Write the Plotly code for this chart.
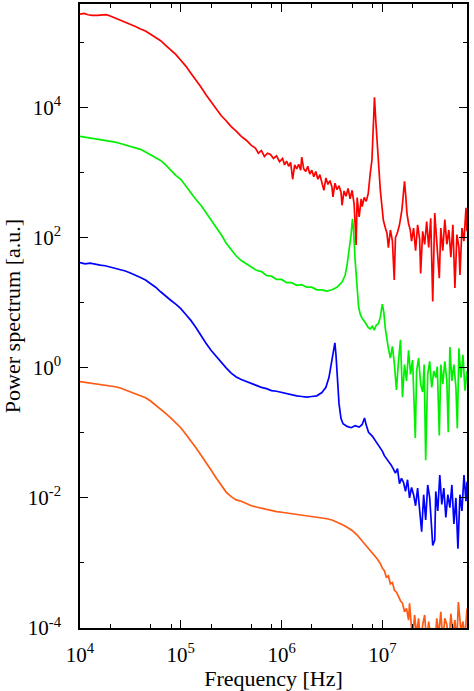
import numpy as np
import plotly.graph_objects as go

# values, as log10(frequency / Hz) and log10(power / a.u.)

red_logf = [4.00, 4.04, 4.08, 4.12, 4.17, 4.22, 4.26, 4.30, 4.35, 4.40, 4.45, 4.50, 4.55, 4.60,
            4.65, 4.70, 4.75, 4.80, 4.85, 4.90, 4.95, 5.00, 5.05, 5.10, 5.15, 5.20, 5.25, 5.30,
            5.35, 5.40, 5.45, 5.50, 5.55, 5.60, 5.65, 5.70, 5.74, 5.77, 5.80, 5.83, 5.86, 5.89,
            5.92, 5.95, 5.98,
            6.01, 6.03, 6.05, 6.07, 6.09, 6.11, 6.13, 6.15, 6.17, 6.19, 6.20, 6.22, 6.24, 6.26,
            6.28, 6.30, 6.32, 6.34, 6.36, 6.38, 6.40, 6.42, 6.44, 6.46, 6.48, 6.50, 6.51, 6.53,
            6.55, 6.57, 6.59, 6.60, 6.62, 6.64, 6.66, 6.68, 6.70, 6.72, 6.74, 6.75, 6.77, 6.79,
            6.80, 6.82, 6.84, 6.86,
            6.88, 6.897, 6.91, 6.922, 6.935, 6.946, 6.96, 6.98, 6.995, 7.01, 7.03, 7.046, 7.06,
            7.08, 7.10, 7.118, 7.13, 7.15, 7.17, 7.194, 7.21, 7.22, 7.232, 7.244, 7.26, 7.277,
            7.29, 7.31, 7.33, 7.35, 7.37, 7.38, 7.40, 7.42, 7.44, 7.46, 7.48, 7.50, 7.52, 7.54,
            7.565, 7.58, 7.60, 7.62, 7.64, 7.66, 7.68, 7.70, 7.72, 7.74, 7.76, 7.77, 7.79, 7.81,
            7.83, 7.84]
red_logp = [5.44, 5.45, 5.43, 5.42, 5.42, 5.43, 5.43, 5.41, 5.38, 5.35, 5.31, 5.28, 5.25, 5.21,
            5.18, 5.13, 5.08, 5.03, 4.96, 4.89, 4.82, 4.73, 4.64, 4.53, 4.43, 4.32, 4.20, 4.09,
            3.98, 3.88, 3.80, 3.71, 3.64, 3.56, 3.50, 3.42, 3.38, 3.30, 3.34, 3.25, 3.30, 3.28,
            3.22, 3.26, 3.17,
            3.22, 3.12, 3.18, 3.10, 3.16, 2.90, 3.12, 3.06, 3.13, 3.04, 3.24, 3.06, 3.02, 3.10,
            2.98, 3.04, 2.94, 3.02, 2.90, 2.97, 2.86, 2.73, 2.92, 2.82, 2.88, 2.78, 2.63, 2.84,
            2.74, 2.80, 2.70, 2.50, 2.72, 2.64, 2.76, 2.60, 2.73, 2.52, 1.89, 2.62, 2.32, 2.60,
            2.48, 2.62, 2.56, 2.68,
            2.99, 3.20, 3.70, 4.16, 3.80, 3.50, 3.10, 2.73, 2.50, 2.27, 2.15, 2.07, 1.85,
            2.12, 1.95, 1.35, 2.00, 2.08, 2.20, 2.43, 2.70, 2.87, 2.65, 2.38, 2.22, 2.12,
            1.95, 2.15, 1.80, 2.20, 1.98, 1.45, 2.10, 1.90, 2.25, 1.85, 2.30, 1.02, 2.38, 1.95,
            1.38, 2.15, 1.80, 2.28, 1.90, 2.12, 1.70, 2.20, 1.23, 2.05, 1.85, 1.43, 2.15, 1.95,
            2.46, 2.10]

green_logf = [4.00, 4.04, 4.08, 4.12, 4.16, 4.20, 4.25, 4.30, 4.35, 4.40, 4.45, 4.50, 4.55, 4.60,
              4.65, 4.70, 4.75, 4.80, 4.85, 4.90, 4.95, 5.00, 5.05, 5.10, 5.15, 5.20, 5.25, 5.30,
              5.35, 5.40, 5.45, 5.50, 5.55, 5.60, 5.65, 5.70, 5.75, 5.80, 5.85, 5.90, 5.95, 6.00,
              6.05, 6.10, 6.15, 6.20, 6.25, 6.30, 6.35, 6.40, 6.45, 6.50, 6.55, 6.60, 6.63, 6.65,
              6.67, 6.69, 6.704, 6.715, 6.73, 6.75, 6.764, 6.78, 6.80, 6.82, 6.84, 6.86, 6.88,
              6.90, 6.92, 6.94, 6.96, 6.98, 7.00, 7.015, 7.03, 7.046,
              7.06, 7.08, 7.10, 7.12, 7.14, 7.16, 7.18, 7.20, 7.22, 7.24, 7.26, 7.28, 7.30, 7.327,
              7.34, 7.36, 7.38, 7.40, 7.415, 7.43, 7.45, 7.47, 7.49, 7.51, 7.53, 7.545, 7.565,
              7.58, 7.60, 7.62, 7.64, 7.654, 7.67, 7.69, 7.71, 7.73, 7.744, 7.76, 7.78, 7.80,
              7.82, 7.84]
green_logp = [3.56, 3.55, 3.54, 3.53, 3.52, 3.51, 3.50, 3.48, 3.47, 3.45, 3.43, 3.41, 3.38, 3.36,
              3.32, 3.28, 3.23, 3.19, 3.12, 3.04, 2.96, 2.90, 2.79, 2.68, 2.59, 2.50, 2.39, 2.28,
              2.16, 2.05, 1.92, 1.81, 1.72, 1.65, 1.60, 1.56, 1.50, 1.48, 1.42, 1.41, 1.36, 1.36,
              1.31, 1.31, 1.27, 1.28, 1.24, 1.24, 1.20, 1.20, 1.18, 1.20, 1.24, 1.32, 1.42, 1.58,
              1.80, 2.05, 2.29, 2.10, 1.66, 1.20, 0.94, 0.83, 0.76, 0.72, 0.66, 0.62, 0.60,
              0.64, 0.58, 0.66, 0.68, 0.78, 0.98, 0.85, 0.60, 0.43,
              0.30, 0.15, 0.33, 0.05, -0.34, 0.10, 0.43, -0.45, 0.05, -0.20, 0.27, -0.10, 0.12, -1.08,
              -0.05, 0.15, -0.25, -0.37, 0.05, -1.42, -0.10, 0.10, -0.30, -0.05, -0.15, 0.02, -1.04,
              0.05, -0.25, 0.10, -0.20, -0.99, 0.32, -0.20, 0.05, -0.30, -0.93, 0.30, -0.15, 0.20,
              -0.35, -0.05]

blue_logf = [4.00, 4.05, 4.10, 4.15, 4.20, 4.25, 4.30, 4.35, 4.40, 4.45, 4.50, 4.55, 4.60, 4.65,
             4.70, 4.75, 4.80, 4.85, 4.90, 4.95, 5.00, 5.05, 5.10, 5.15, 5.20, 5.25, 5.30, 5.35,
             5.40, 5.45, 5.50, 5.55, 5.60, 5.65, 5.70, 5.75, 5.80, 5.85, 5.90, 5.95, 6.00, 6.05,
             6.10, 6.15, 6.20, 6.25, 6.30, 6.35, 6.40, 6.44, 6.47, 6.49, 6.51, 6.529, 6.54, 6.555,
             6.57, 6.59, 6.61, 6.65, 6.69, 6.73, 6.77, 6.80, 6.823, 6.84, 6.863, 6.90, 6.946,
             6.97, 7.00, 7.02, 7.046, 7.07, 7.09, 7.111, 7.13, 7.15, 7.17, 7.19, 7.21, 7.23,
             7.25, 7.27, 7.29, 7.31,
             7.33, 7.35, 7.37, 7.39, 7.41, 7.43, 7.45, 7.47, 7.50, 7.52, 7.53, 7.55, 7.57, 7.59,
             7.61, 7.63, 7.65, 7.67, 7.69, 7.71, 7.73, 7.75, 7.77, 7.79, 7.81, 7.83, 7.84]
blue_logp = [1.62, 1.60, 1.61, 1.59, 1.58, 1.57, 1.55, 1.54, 1.52, 1.49, 1.46, 1.43, 1.39, 1.35,
             1.30, 1.24, 1.17, 1.10, 1.04, 0.98, 0.91, 0.82, 0.73, 0.62, 0.49, 0.38, 0.27, 0.18,
             0.08, 0.00, -0.08, -0.14, -0.18, -0.21, -0.25, -0.27, -0.30, -0.32, -0.35, -0.36, -0.38, -0.40,
             -0.41, -0.43, -0.44, -0.45, -0.44, -0.43, -0.38, -0.30, -0.15, 0.02, 0.22, 0.385, 0.20, -0.19,
             -0.55, -0.78, -0.86, -0.90, -0.92, -0.89, -0.91, -0.87, -0.77, -0.88, -0.99, -1.05, -1.16,
             -1.20, -1.28, -1.35, -1.40, -1.45, -1.50, -1.56, -1.62, -1.55, -1.78, -1.70, -1.76, -1.90,
             -1.72, -2.00, -1.84, -1.95,
             -2.12, -1.85, -2.20, -2.52, -1.95, -2.34, -1.80, -2.00, -2.73, -2.65, -1.90, -2.20, -1.65,
             -2.10, -1.85, -2.30, -1.95, -2.15, -1.80, -2.40, -2.00, -2.78, -1.95, -2.20, -1.65, -2.05, -1.75]

orange_logf = [4.00, 4.05, 4.10, 4.15, 4.20, 4.25, 4.30, 4.35, 4.40, 4.45, 4.50, 4.55, 4.60, 4.65,
               4.70, 4.75, 4.80, 4.85, 4.90, 4.95, 5.00, 5.05, 5.10, 5.15, 5.20, 5.25, 5.30, 5.35,
               5.40, 5.45, 5.50, 5.55, 5.60, 5.65, 5.70, 5.75, 5.80, 5.85, 5.90, 5.95, 6.00, 6.05,
               6.10, 6.15, 6.20, 6.25, 6.30, 6.35, 6.40, 6.45, 6.50, 6.55, 6.60, 6.65, 6.70, 6.75,
               6.80, 6.85, 6.90, 6.95, 6.98, 7.00, 7.02, 7.04, 7.06, 7.08, 7.10, 7.12, 7.14, 7.16,
               7.18, 7.20, 7.22, 7.24, 7.26,
               7.27, 7.30, 7.32, 7.34, 7.36, 7.38, 7.40, 7.42, 7.44, 7.46, 7.48, 7.50, 7.52, 7.54,
               7.56, 7.58, 7.60, 7.62, 7.64, 7.66, 7.68, 7.70, 7.72, 7.74, 7.754, 7.78, 7.80, 7.82,
               7.84]
orange_logp = [-0.21, -0.22, -0.23, -0.24, -0.25, -0.27, -0.28, -0.29, -0.31, -0.34, -0.36, -0.39, -0.42, -0.46,
               -0.51, -0.57, -0.63, -0.70, -0.77, -0.85, -0.92, -1.02, -1.12, -1.23, -1.34, -1.45, -1.57, -1.69,
               -1.80, -1.91, -1.98, -2.03, -2.05, -2.09, -2.12, -2.14, -2.16, -2.18, -2.20, -2.21, -2.22, -2.23,
               -2.24, -2.25, -2.26, -2.27, -2.28, -2.29, -2.30, -2.32, -2.34, -2.37, -2.41, -2.45, -2.50, -2.57,
               -2.66, -2.75, -2.84, -2.94, -3.01, -3.08, -3.12, -3.22, -3.20, -3.32, -3.30, -3.42, -3.45, -3.52,
               -3.58, -3.62, -3.75, -3.70, -3.88,
               -3.62, -4.20, -3.80, -4.10, -3.85, -4.30, -3.95, -3.80, -4.25, -3.90, -4.15, -4.05, -4.30, -3.85,
               -4.10, -3.75, -4.20, -3.85, -3.95, -4.25, -3.78, -4.10, -3.88, -4.20, -3.60, -4.05, -3.90, -4.15,
               -3.70]

curves = [
    (red_logf, red_logp, "#ff0000"),
    (green_logf, green_logp, "#00f000"),
    (blue_logf, blue_logp, "#0000ff"),
    (orange_logf, orange_logp, "#ff5a14"),
]

x_ticks = [1e4, 1e5, 1e6, 1e7]
x_ticktext = ["10<sup>4</sup>", "10<sup>5</sup>", "10<sup>6</sup>", "10<sup>7</sup>"]
x_minor = [m * d for d in (1e4, 1e5, 1e6, 1e7) for m in (2, 5, 8)]
y_ticks = [1e-4, 1e-2, 1e0, 1e2, 1e4]
y_ticktext = ["10<sup>-4</sup>", "10<sup>-2</sup>", "10<sup>0</sup>", "10<sup>2</sup>", "10<sup>4</sup>"]
y_minor = [1e-3, 1e-1, 1e1, 1e3, 1e5]

FONT = "Liberation Serif, Times New Roman, serif"

fig = go.Figure()
for lf, lp, col in curves:
    fig.add_trace(go.Scatter(
        x=10 ** np.array(lf), y=10 ** np.array(lp),
        mode="lines", line=dict(color=col, width=1.7),
        showlegend=False,
    ))

_AXIS = dict(
    showline=True, linecolor="black", linewidth=1.6, mirror="ticks",
    ticks="inside", ticklen=8, tickwidth=1.4, tickcolor="black",
    showgrid=False, zeroline=False, automargin=False,
    tickfont=dict(family=FONT, size=21, color="black"),
    title_font=dict(family=FONT, size=22, color="black"),
)

fig.update_layout(
    width=474, height=691,
    margin=dict(l=80, r=7, t=4, b=63),
    paper_bgcolor="white", plot_bgcolor="white",
    xaxis=dict(
        type="log", range=[4, 7.84],
        tickmode="array", tickvals=x_ticks, ticktext=x_ticktext,
        minor=dict(tickmode="array", tickvals=x_minor, ticks="inside", ticklen=4,
                   tickwidth=1.2, tickcolor="black", showgrid=False),
        title=dict(text="Frequency [Hz]"),
        ticklabelstandoff=7,
        **_AXIS,
    ),
    yaxis=dict(
        type="log", range=[-4, 5.595],
        tickmode="array", tickvals=y_ticks, ticktext=y_ticktext,
        minor=dict(tickmode="array", tickvals=y_minor, ticks="inside", ticklen=4,
                   tickwidth=1.2, tickcolor="black", showgrid=False),
        title=dict(text="Power spectrum [a.u.]"),
        ticklabelstandoff=13,
        **_AXIS,
    ),
)

# the page body has a default margin; drop it so the figure sits at the window's corner
fig.write_html("out.html", config={"displayModeBar": False},
               post_script="document.body.style.margin='0';")
